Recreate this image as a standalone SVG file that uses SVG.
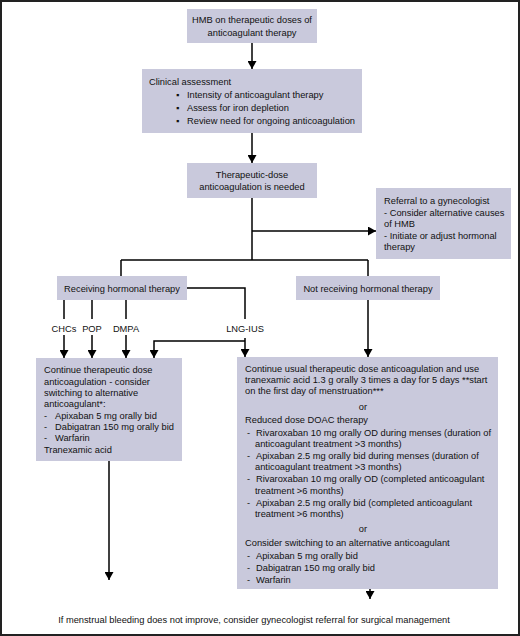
<svg xmlns="http://www.w3.org/2000/svg" width="520" height="636" viewBox="0 0 520 636">
<defs>
<marker id="ah" markerUnits="userSpaceOnUse" markerWidth="8" markerHeight="9" refX="8" refY="4.5" orient="auto">
<path d="M0,0 L8,4.5 L0,9 Z" fill="#000"/>
</marker>
<style>
.box{fill:#c9c9dc;}
text{font-family:"Liberation Sans",Arial,sans-serif;font-size:9.3px;fill:#111;}
.c{text-anchor:middle;}
.ln{fill:none;stroke:#000;stroke-width:1.5;}
.ar{fill:none;stroke:#000;stroke-width:1.5;marker-end:url(#ah);}
</style>
</defs>
<rect x="0" y="0" width="520" height="636" fill="#fff"/>
<rect x="1" y="1" width="518" height="634" fill="none" stroke="#222" stroke-width="2"/>

<g id="n-hmb">
<rect class="box" x="187" y="9" width="130" height="34"/>
<text class="c" x="252" y="23">HMB on therapeutic doses of</text>
<text class="c" x="252" y="36">anticoagulant therapy</text>
</g>

<g id="n-clinical">
<rect class="box" x="142" y="69" width="220" height="64"/>
<text x="149" y="85">Clinical assessment</text>
<text x="176" y="98">▪</text><text x="187" y="98">Intensity of anticoagulant therapy</text>
<text x="176" y="111">▪</text><text x="187" y="111">Assess for iron depletion</text>
<text x="176" y="124">▪</text><text x="187" y="124">Review need for ongoing anticoagulation</text>
</g>

<g id="n-needed">
<rect class="box" x="187" y="163" width="130" height="35"/>
<text class="c" x="252" y="178">Therapeutic-dose</text>
<text class="c" x="252" y="190">anticoagulation is needed</text>
</g>

<g id="n-referral">
<rect class="box" x="376" y="188" width="135" height="71"/>
<text x="384" y="204">Referral to a gynecologist</text>
<text x="384" y="216">- Consider alternative causes</text>
<text x="384" y="227">of HMB</text>
<text x="384" y="239">- Initiate or adjust hormonal</text>
<text x="384" y="250">therapy</text>
</g>

<g id="n-receiving">
<rect class="box" x="57" y="276" width="130" height="24"/>
<text class="c" x="122" y="292">Receiving hormonal therapy</text>
</g>

<g id="n-notreceiving">
<rect class="box" x="296" y="276" width="144" height="24"/>
<text class="c" x="368" y="292">Not receiving hormonal therapy</text>
</g>

<g id="n-left">
<rect class="box" x="36" y="358" width="146" height="103"/>
<text x="44" y="373">Continue therapeutic dose</text>
<text x="44" y="385">anticoagulation - consider</text>
<text x="44" y="396">switching to alternative</text>
<text x="44" y="407">anticoagulant*:</text>
<text x="44" y="419">-</text><text x="55" y="419">Apixaban 5 mg orally bid</text>
<text x="44" y="430">-</text><text x="55" y="430">Dabigatran 150 mg orally bid</text>
<text x="44" y="441">-</text><text x="55" y="441">Warfarin</text>
<text x="44" y="453">Tranexamic acid</text>
</g>

<g id="n-right">
<rect class="box" x="237" y="357" width="261" height="232"/>
<text x="245" y="372">Continue usual therapeutic dose anticoagulation and use</text>
<text x="245" y="383">tranexamic acid 1.3 g orally 3 times a day for 5 days **start</text>
<text x="245" y="394">on the first day of menstruation***</text>
<text class="c" x="363" y="410">or</text>
<text x="245" y="423">Reduced dose DOAC therapy</text>
<text x="247" y="436">-</text><text x="256" y="436">Rivaroxaban 10 mg orally OD during menses (duration of</text>
<text x="255" y="447">anticoagulant treatment &gt;3 months)</text>
<text x="247" y="459">-</text><text x="256" y="459">Apixaban 2.5 mg orally bid during menses (duration of</text>
<text x="255" y="470">anticoagulant treatment &gt;3 months)</text>
<text x="247" y="482">-</text><text x="256" y="482">Rivaroxaban 10 mg orally OD (completed anticoagulant</text>
<text x="255" y="494">treatment &gt;6 months)</text>
<text x="247" y="506">-</text><text x="256" y="506">Apixaban 2.5 mg orally bid (completed anticoagulant</text>
<text x="255" y="517">treatment &gt;6 months)</text>
<text class="c" x="363" y="532">or</text>
<text x="245" y="546">Consider switching to an alternative anticoagulant</text>
<text x="247" y="559">-</text><text x="256" y="559">Apixaban 5 mg orally bid</text>
<text x="247" y="571">-</text><text x="256" y="571">Dabigatran 150 mg orally bid</text>
<text x="247" y="583">-</text><text x="256" y="583">Warfarin</text>
</g>

<g id="n-bottom">
<text class="c" x="254" y="623">If menstrual bleeding does not improve, consider gynecologist referral for surgical management</text>
</g>

<g id="labels">
<text class="c" x="64" y="332">CHCs</text>
<text class="c" x="92" y="332">POP</text>
<text class="c" x="126" y="332">DMPA</text>
<text class="c" x="245" y="332">LNG-IUS</text>
</g>

<g id="connectors">
<path class="ar" d="M252,43 V69"/>
<path class="ar" d="M252,133 V163"/>
<path class="ln" d="M252,198 V260"/>
<path class="ar" d="M252,231 H376"/>
<path class="ln" d="M121,260 H368"/>
<path class="ln" d="M121,260 V276"/>
<path class="ln" d="M368,260 V276"/>
<path class="ln" d="M187,288 H245 V319"/>
<path class="ln" d="M64,300 V319"/>
<path class="ln" d="M92,300 V319"/>
<path class="ln" d="M126,300 V319"/>
<path class="ar" d="M64,335 V358"/>
<path class="ar" d="M92,335 V358"/>
<path class="ar" d="M126,335 V358"/>
<path class="ar" d="M245,338 V357"/>
<path class="ar" d="M245,341 H154 V358"/>
<path class="ar" d="M368,300 V357"/>
<path class="ar" d="M109,461 V580"/>
<path class="ar" d="M370,589 V599"/>
</g>
</svg>
